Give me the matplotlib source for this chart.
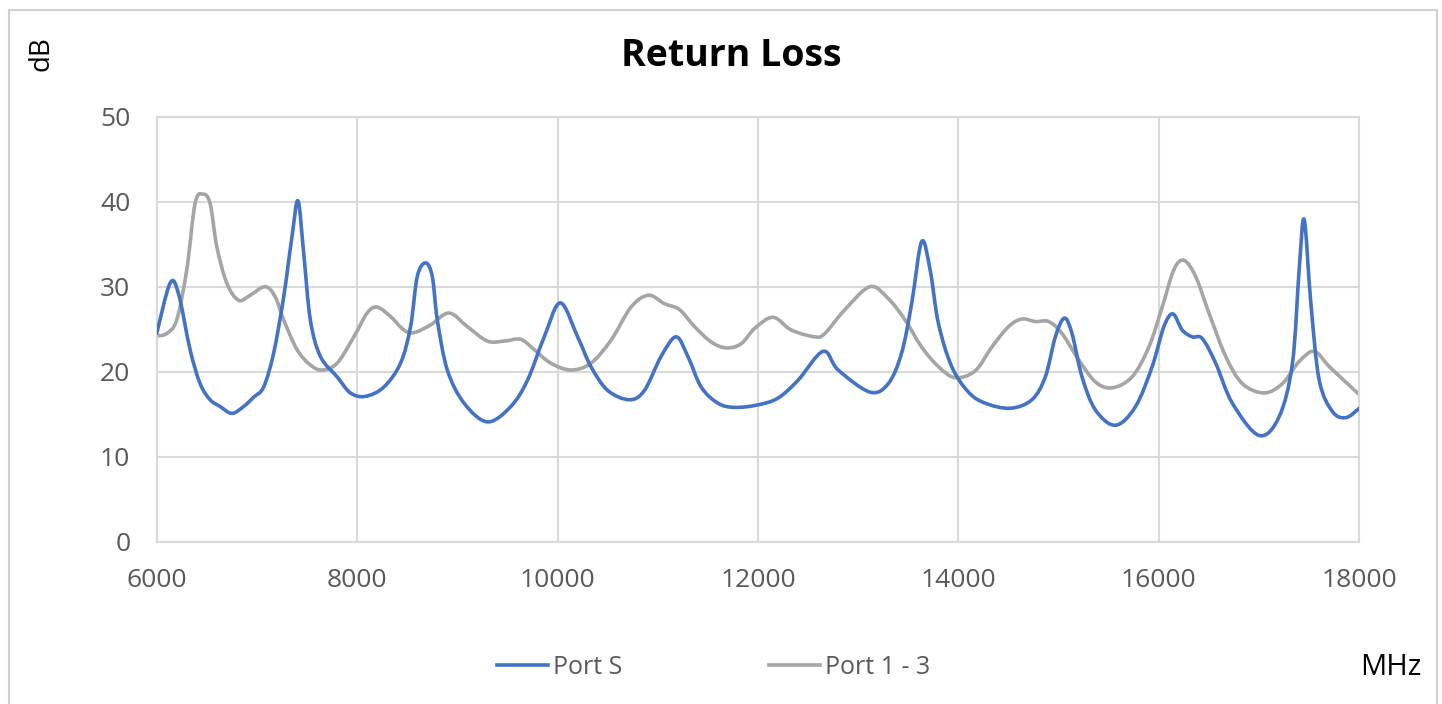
import matplotlib
matplotlib.use("Agg")
import matplotlib.pyplot as plt
import numpy as np
from matplotlib.patches import Rectangle, PathPatch
from matplotlib.path import Path
from matplotlib.lines import Line2D

# ---- data ----
port_s_mhz = [6000, 6133, 6217, 6333, 6433, 6533, 6633, 6750, 6867, 6967, 7067, 7167, 7267, 7350, 7410,
              7467, 7533, 7633, 7800, 7933, 8083, 8267, 8433, 8533, 8600, 8683, 8750, 8800, 8900, 9067,
              9300, 9533, 9700, 9867, 10027, 10200, 10333, 10500, 10717, 10867, 11033, 11183, 11300,
              11433, 11600, 11767, 12000, 12200, 12400, 12650, 12800, 13117, 13300, 13433, 13533, 13633,
              13717, 13800, 13933, 14100, 14267, 14517, 14733, 14867, 14967, 15057, 15133, 15233, 15367,
              15567, 15767, 15933, 16050, 16140, 16233, 16333, 16433, 16567, 16733, 17000, 17200, 17333,
              17400, 17450, 17517, 17600, 17733, 17867, 18000]
port_s_db = [24.5, 30.4, 29.2, 22.6, 18.6, 16.7, 15.9, 15.1, 15.9, 17.0, 18.2, 22.2, 28.8, 35.9, 40.1,
             33.9, 26.1, 21.8, 19.4, 17.5, 17.1, 18.2, 21.0, 25.3, 31.2, 32.8, 31.2, 26.1, 20.2, 16.3,
             14.1, 15.9, 19.0, 24.1, 28.1, 24.1, 20.6, 17.8, 16.7, 17.8, 21.8, 24.1, 21.8,
             18.2, 16.3, 15.8, 16.1, 16.9, 19.0, 22.4, 20.2, 17.6, 18.6, 22.2, 28.0, 35.3,
             32.0, 25.7, 20.6, 17.6, 16.3, 15.7, 16.7, 19.4, 24.1, 26.3, 24.5, 19.4, 15.5,
             13.7, 15.9, 20.6, 25.3, 26.8, 24.9, 24.1, 23.9, 21.0, 16.3, 12.5, 14.7, 21.0,
             32.0, 37.9, 28.0, 19.0, 15.3, 14.6, 15.7]

port13_mhz = [6000, 6100, 6200, 6300, 6383, 6460, 6533, 6600, 6700, 6817, 6933, 7083, 7183, 7267, 7400,
              7533, 7650, 7800, 7967, 8100, 8200, 8333, 8467, 8567, 8733, 8917, 9100, 9300, 9467, 9633,
              9767, 9933, 10133, 10333, 10533, 10733, 10907, 11067, 11217, 11367, 11533, 11683, 11833,
              11967, 12150, 12333, 12567, 12667, 12867, 13117, 13300, 13467, 13633, 13800, 13967, 14167,
              14333, 14500, 14633, 14767, 14900, 15033, 15200, 15367, 15533, 15733, 15900, 16033, 16150,
              16250, 16367, 16500, 16667, 16833, 17050, 17233, 17400, 17550, 17700, 17900, 18000]
port13_db = [24.2, 24.5, 26.1, 32.0, 39.8, 40.9, 39.8, 34.7, 30.4, 28.4, 29.0, 30.0, 28.8, 26.1, 22.6,
             20.8, 20.2, 21.0, 24.1, 26.9, 27.6, 26.5, 24.9, 24.6, 25.5, 26.9, 25.3, 23.6, 23.6, 23.8,
             22.6, 21.0, 20.2, 21.0, 23.7, 27.6, 29.0, 28.0, 27.3, 25.3, 23.5, 22.8, 23.3,
             25.1, 26.4, 24.9, 24.1, 24.5, 27.3, 30.0, 28.6, 26.1, 22.9, 20.6, 19.3, 20.1,
             22.9, 25.3, 26.2, 25.9, 25.9, 24.5, 21.4, 18.8, 18.1, 19.4, 22.9, 27.6, 32.0,
             33.1, 31.2, 26.9, 21.8, 18.6, 17.5, 18.6, 21.2, 22.4, 20.6, 18.4, 17.3]

x_ticks = [6000, 8000, 10000, 12000, 14000, 16000, 18000]
y_ticks = [0, 10, 20, 30, 40, 50]
series_labels = ["Port S", "Port 1 - 3"]
title = "Return Loss"


def smooth_path(xs, ys):
    """Excel-style smoothed line: cubic Bezier segments through the data points."""
    p = np.column_stack([xs, ys]).astype(float)
    n = len(p)
    verts = [p[0]]
    codes = [Path.MOVETO]
    for i in range(n - 1):
        prev = p[i - 1] if i > 0 else p[i]
        nxt = p[i + 2] if i + 2 < n else p[i + 1]
        c1 = p[i] + (p[i + 1] - prev) / 6.0
        c2 = p[i + 1] - (nxt - p[i]) / 6.0
        verts += [c1, c2, p[i + 1]]
        codes += [Path.CURVE4] * 3
    return Path(verts, codes)


# ---- figure ----
plt.rcParams['font.family'] = ['Open Sans', 'DejaVu Sans']
W, H = 1442, 704
fig = plt.figure(figsize=(W / 100, H / 100), dpi=100)
fig.patch.set_facecolor('white')

# outer chart border
fig.patches.append(Rectangle((9 / W, -0.02), (1437 - 9) / W, 1 - 10 / H + 0.02,
                             transform=fig.transFigure, fill=False,
                             edgecolor='#d0d0d0', linewidth=1.5, zorder=0))

ax = fig.add_axes([156.7 / W, 1 - 541.7 / H, (1359.3 - 156.7) / W, (541.7 - 116.7) / H])

blue = '#4472C4'
gray = '#A5A5A5'
lw = 2.6
ax.add_patch(PathPatch(smooth_path(port13_mhz, port13_db), fill=False, edgecolor=gray,
                       lw=lw, joinstyle='round', capstyle='round', zorder=2))
ax.add_patch(PathPatch(smooth_path(port_s_mhz, port_s_db), fill=False, edgecolor=blue,
                       lw=lw, joinstyle='round', capstyle='round', zorder=3))

ax.set_xlim(6000, 18000)
ax.set_ylim(0, 50)
ax.set_xticks(x_ticks)
ax.set_yticks(y_ticks)
ax.grid(True, color='#d9d9d9', lw=1.5, zorder=0)
ax.set_axisbelow(True)
for s in ax.spines.values():
    s.set_color('#d9d9d9')
    s.set_linewidth(1.5)
ax.tick_params(axis='both', length=0, labelsize=19, colors='#595959')
ax.tick_params(axis='y', pad=19)
ax.tick_params(axis='x', pad=19)

fig.text(731 / W, 1 - 66.5 / H, title, ha='center', va='baseline', fontsize=27,
         fontweight='bold', color='black')
fig.text(41.5 / W, 1 - 54 / H, 'dB', ha='center', va='center', rotation=90,
         fontsize=20, color='black')
fig.text(1391 / W, 1 - 675 / H, 'MHz', ha='center', va='baseline', fontsize=21,
         color='black')

h1 = Line2D([], [], color=blue, lw=lw)
h2 = Line2D([], [], color=gray, lw=lw)
leg = fig.legend([h1, h2], series_labels, loc='center left', bbox_to_anchor=(497 / W, 1 - 667 / H),
                 ncol=2, frameon=False, fontsize=18, handlelength=2.04, handletextpad=0.2,
                 columnspacing=5.88, labelcolor='#595959', borderaxespad=0, borderpad=0)

fig.savefig('out.png', dpi=100)
